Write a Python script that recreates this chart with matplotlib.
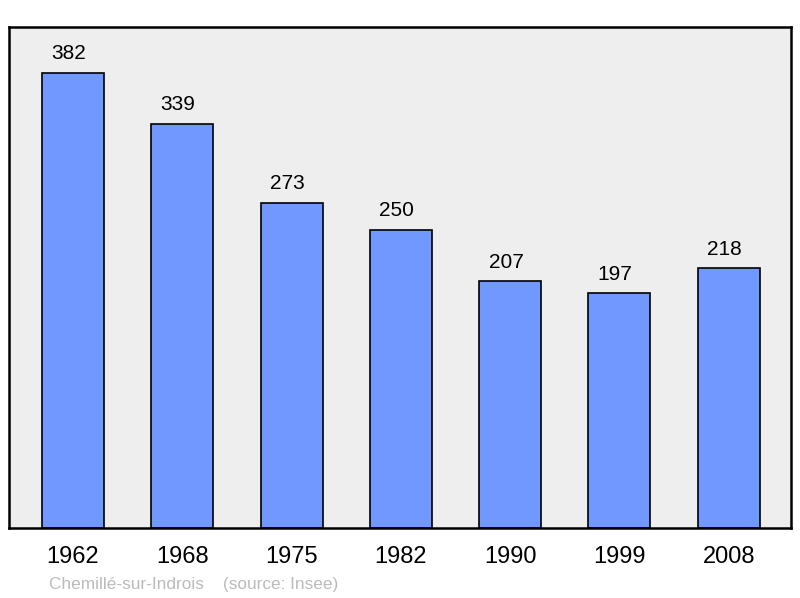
import matplotlib
matplotlib.use("Agg")
import matplotlib.pyplot as plt

years = ["1962", "1968", "1975", "1982", "1990", "1999", "2008"]
population = [382, 339, 273, 250, 207, 197, 218]

plt.rcParams['font.family'] = ['Liberation Sans', 'DejaVu Sans']

fig = plt.figure(figsize=(8, 5.98), dpi=100)
W, H = 800, 598
ax = fig.add_axes([9 / W, 1 - 528 / H, (791 - 9) / W, (528 - 27) / H])
ax.set_facecolor('#eeeeee')
x = list(range(len(years)))
ax.bar(x, population, width=0.567, color='#7098ff', edgecolor='black', linewidth=1.2, zorder=2)
for xi, v in zip(x, population):
    ax.annotate(str(v), (xi, v), xytext=(-3, 7), textcoords='offset points',
                ha='center', va='bottom', fontsize=15, color='black')
ax.set_xlim(-0.585, 6.57)
ax.set_ylim(0, 420.6)
ax.set_yticks([])
ax.set_xticks(x)
ax.set_xticklabels(years, fontsize=17)
ax.tick_params(axis='x', length=0, pad=13)
for s in ax.spines.values():
    s.set_linewidth(1.8)
    s.set_color('black')
fig.text(49 / W, 1 - 584 / H, "Chemillé-sur-Indrois    (source: Insee)", fontsize=12.4,
         color='#bbbbbb', ha='left', va='center')
fig.savefig("out.png", dpi=100)
